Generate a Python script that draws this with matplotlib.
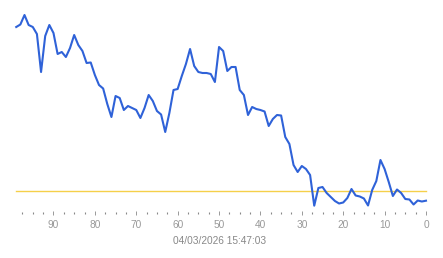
import matplotlib.pyplot as plt

# minutes ago (99 ... 0) and the value
minutes_ago = list(range(99, -1, -1))
values = [188, 190.5, 200, 190, 188, 181, 143, 179, 190, 182,
          161, 163, 158, 167, 180, 170, 164, 152, 152.5, 140,
          130, 126.5, 111, 98, 119, 117, 105, 109, 107, 105,
          97, 107, 120, 114, 104, 100.5, 83, 102, 125, 126,
          139, 151, 166, 149, 143, 142, 142, 141, 133, 168,
          164, 144, 148, 148, 125, 120, 100, 108, 106, 105,
          103.5, 89, 96, 100, 99.5, 78, 71, 50, 43, 49,
          46, 40, 9.3, 27, 28, 22, 18, 14, 11.5, 12.5,
          17, 26, 19.5, 18.5, 16.5, 9.5, 25, 34, 55, 46,
          33, 19, 25.5, 22, 16, 15.5, 10.5, 14.5, 13.5, 14.3]
reference_level = 24
major_ticks = [0, 10, 20, 30, 40, 50, 60, 70, 80, 90]
minor_ticks = [i * 2.5 for i in range(40)]
timestamp = "04/03/2026 15:47:03"

plt.rcParams['font.family'] = ['Liberation Sans', 'DejaVu Sans']

fig = plt.figure(figsize=(4.43, 2.58), dpi=100)
ax = fig.add_axes([0, 45 / 258, 1, 213 / 258])

ax.plot([minutes_ago[0], minutes_ago[-1]], [reference_level, reference_level],
        color='#f5d04a', linewidth=1.0, snap=True, zorder=1)
ax.plot(minutes_ago, values, color='#2f62d8', linewidth=1.5, zorder=2)

ax.set_xlim(102.92, -4.11)
ax.set_ylim(2, 215)

for s in ax.spines.values():
    s.set_visible(False)
ax.set_yticks([])
ax.set_xticks(major_ticks)
ax.set_xticks(minor_ticks, minor=True)
ax.tick_params(axis='x', which='major', direction='inout', length=3.5, width=0.7,
               color='#999999', labelcolor='#999999', labelsize=7.3, pad=3.2)
ax.tick_params(axis='x', which='minor', direction='inout', length=1.2, width=0.8,
               color='#888888')

fig.text(220 / 443, 1 - 241 / 258, timestamp, ha='center', va='center',
         fontsize=7.3, color='#888888')

fig.savefig('out.png', dpi=100)
